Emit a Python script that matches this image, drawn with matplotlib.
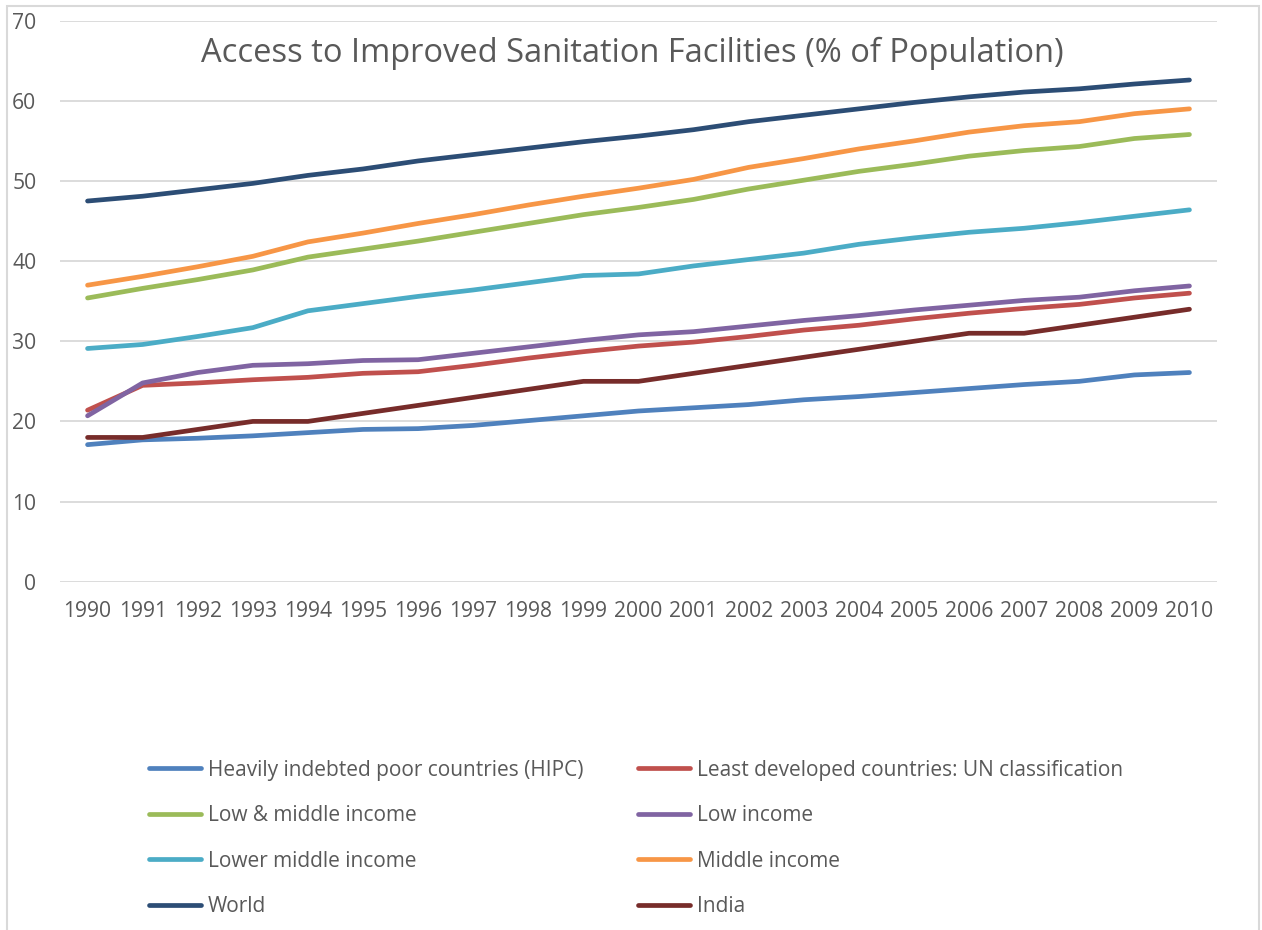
import matplotlib.pyplot as plt
from matplotlib.patches import Rectangle

# access to improved sanitation, % of population
years = [str(y) for y in range(1990, 2011)]

hipc = [17.1, 17.7, 17.9, 18.2, 18.6, 19.0, 19.1, 19.5, 20.1, 20.7, 21.3,
        21.7, 22.1, 22.7, 23.1, 23.6, 24.1, 24.6, 25.0, 25.8, 26.1]
ldc = [21.4, 24.5, 24.8, 25.2, 25.5, 26.0, 26.2, 27.0, 27.9, 28.7, 29.4,
       29.9, 30.6, 31.4, 32.0, 32.8, 33.5, 34.1, 34.6, 35.4, 36.0]
low_mid = [35.4, 36.6, 37.7, 38.9, 40.5, 41.5, 42.5, 43.6, 44.7, 45.8, 46.7,
           47.7, 49.0, 50.1, 51.2, 52.1, 53.1, 53.8, 54.3, 55.3, 55.8]
low = [20.7, 24.8, 26.1, 27.0, 27.2, 27.6, 27.7, 28.5, 29.3, 30.1, 30.8,
       31.2, 31.9, 32.6, 33.2, 33.9, 34.5, 35.1, 35.5, 36.3, 36.9]
lower_mid = [29.1, 29.6, 30.6, 31.7, 33.8, 34.7, 35.6, 36.4, 37.3, 38.2, 38.4,
             39.4, 40.2, 41.0, 42.1, 42.9, 43.6, 44.1, 44.8, 45.6, 46.4]
middle = [37.0, 38.1, 39.3, 40.6, 42.4, 43.5, 44.7, 45.8, 47.0, 48.1, 49.1,
          50.2, 51.7, 52.8, 54.0, 55.0, 56.1, 56.9, 57.4, 58.4, 59.0]
world = [47.5, 48.1, 48.9, 49.7, 50.7, 51.5, 52.5, 53.3, 54.1, 54.9, 55.6,
         56.4, 57.4, 58.2, 59.0, 59.8, 60.5, 61.1, 61.5, 62.1, 62.6]
india = [18, 18, 19, 20, 20, 21, 22, 23, 24, 25, 25,
         26, 27, 28, 29, 30, 31, 31, 32, 33, 34]

series = [
    ("Heavily indebted poor countries (HIPC)", hipc, "#4F81BD"),
    ("Least developed countries: UN classification", ldc, "#C0504D"),
    ("Low & middle income", low_mid, "#9BBB59"),
    ("Low income", low, "#8064A2"),
    ("Lower middle income", lower_mid, "#4BACC6"),
    ("Middle income", middle, "#F79646"),
    ("World", world, "#2C4D75"),
    ("India", india, "#772C2A"),
]

plt.rcParams["font.family"] = ["Open Sans", "DejaVu Sans"]
txt_col = "#595959"

fig = plt.figure(figsize=(12.62, 9.30), dpi=100)
ax = fig.add_axes([60 / 1262, 1 - 581.7 / 930, 1157 / 1262, 561 / 930])

# chart border
fig.patches.append(Rectangle((7 / 1262, -0.05), 1252 / 1262, 1.05 - 6 / 930,
                             transform=fig.transFigure, fill=False,
                             edgecolor="#D9D9D9", lw=1.5))

x = range(len(years))
lines = []
for name, vals, col in series:
    (ln,) = ax.plot(x, vals, color=col, lw=3.4, label=name,
                    solid_capstyle="round", solid_joinstyle="round")
    lines.append(ln)

ax.set_xlim(-0.5, len(years) - 0.5)
ax.set_ylim(0, 70)
ax.set_yticks(range(0, 71, 10))
ax.set_xticks(list(x))
ax.set_xticklabels(years)
ax.grid(axis="y", color="#D9D9D9", lw=1.3)
ax.set_axisbelow(True)
for s in ax.spines.values():
    s.set_visible(False)
ax.tick_params(axis="both", length=0, labelsize=15.2, colors=txt_col)
ax.tick_params(axis="x", pad=14)
ax.tick_params(axis="y", pad=17)

fig.text(632 / 1262, 1 - 62 / 930,
         "Access to Improved Sanitation Facilities (% of Population)",
         ha="center", va="baseline", fontsize=23.5, color=txt_col)

# legend filled row by row: reorder handles for column-major layout
order = [0, 2, 4, 6, 1, 3, 5, 7]
leg = fig.legend([lines[i] for i in order], [series[i][0] for i in order],
                 ncol=2, loc="upper left",
                 bbox_to_anchor=(130 / 1262, 1 - 741 / 930),
                 frameon=False, fontsize=15, labelcolor=txt_col,
                 handlelength=2.5, handletextpad=0.34, columnspacing=2.6,
                 labelspacing=1.17)

fig.savefig("out.png", dpi=100)
